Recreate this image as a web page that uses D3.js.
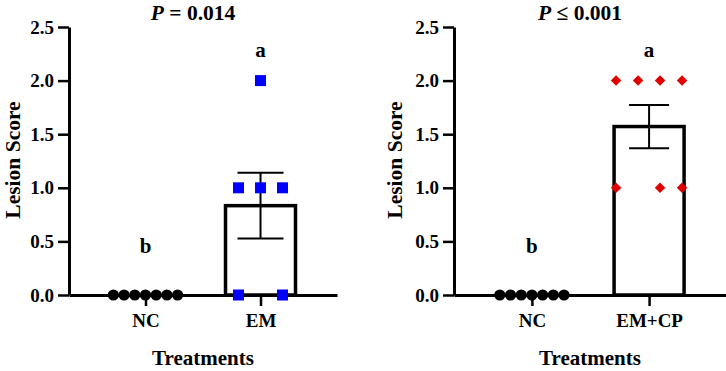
<!DOCTYPE html>
<html>
<head>
<meta charset="utf-8">
<script src="https://cdn.jsdelivr.net/npm/d3@7"></script>
<style>
    body { margin: 0; background: #fff; }
    svg { display: block; }
    text { font-family: "Liberation Serif", "Times New Roman", serif; font-weight: bold; fill: #000; }
</style>
</head>
<body>
<div class="chart_global"></div>
<script>
// данные по графикам
const yTicks = [0, 0.5, 1.0, 1.5, 2.0, 2.5]

// левый график
const leftCategories = ['NC', 'EM']
const leftTitle = '0.014'
const leftSign = '='
const leftNC = [0, 0, 0, 0, 0, 0, 0]
const leftEM = [2, 1, 1, 1, 0, 0]
const leftEMSlot = [0, -1, 0, 1, -1, 1]
const leftLetters = ['b', 'a']

// правый график
const rightCategories = ['NC', 'EM+CP']
const rightTitle = '0.001'
const rightSign = '≤'
const rightNC = [0, 0, 0, 0, 0, 0, 0]
const rightEMCP = [2, 2, 2, 2, 1, 1, 1]
const rightEMCPSlot = [-1.5, -0.5, 0.5, 1.5, -1.5, 0.5, 1.5]
const rightLetters = ['b', 'a']

const width = 726
const height = 371

const svg = d3.select('.chart_global')
    .append('svg')
    .attr('width', width)
    .attr('height', height)

// среднее и ошибка среднего
function meanSem(arr) {
    const m = d3.mean(arr)
    const sd = d3.deviation(arr)
    return { mean: m, sem: sd / Math.sqrt(arr.length) }
}

function drawPanel(opt) {
    const g = svg.append('g')

    const yScale = d3.scaleLinear()
        .domain([0, 2.5])
        .range([295, 27])

    const xScale = d3.scalePoint()
        .domain(opt.categories)
        .range([opt.x0, opt.x1])
        .padding(0.665)

    // ось y
    const yAxis = g.append('g')
        .attr('transform', 'translate(' + opt.x0 + ',0)')
        .call(d3.axisLeft(yScale).tickValues(yTicks).tickFormat(d3.format('.1f')).tickSize(11).tickSizeOuter(0).tickPadding(4))
    yAxis.select('.domain').attr('stroke-width', 3)
    yAxis.selectAll('.tick line').attr('stroke-width', 2.5)
    yAxis.selectAll('.tick text').style('font-size', '19px')

    // ось x
    const xAxis = g.append('g')
        .attr('transform', 'translate(0,' + yScale(0) + ')')
        .call(d3.axisBottom(xScale).tickSize(11).tickSizeOuter(0).tickPadding(8))
    xAxis.select('.domain').attr('stroke-width', 3)
    xAxis.selectAll('.tick line').attr('stroke-width', 2.5)
    xAxis.selectAll('.tick text').style('font-size', '19px')

    // столбец
    const st = meanSem(opt.values)
    const cx = xScale(opt.categories[1])
    g.append('rect')
        .attr('x', cx - 35)
        .attr('y', yScale(st.mean))
        .attr('width', 70)
        .attr('height', yScale(0) - yScale(st.mean))
        .attr('fill', 'none')
        .attr('stroke', '#000')
        .attr('stroke-width', 3.5)

    // ошибка
    const err = g.append('g').attr('stroke', '#000').attr('stroke-width', 2)
    err.append('line')
        .attr('x1', cx).attr('x2', cx)
        .attr('y1', yScale(st.mean + st.sem)).attr('y2', yScale(st.mean - st.sem))
    ;[st.mean + st.sem, st.mean - st.sem].forEach(v => {
        err.append('line')
            .attr('x1', cx - opt.cap / 2).attr('x2', cx + opt.cap / 2)
            .attr('y1', yScale(v)).attr('y2', yScale(v))
    })

    // точки NC
    const nx = xScale(opt.categories[0])
    g.selectAll('.nc')
        .data(opt.nc)
        .enter()
        .append('circle')
        .attr('cx', (d, i) => nx + (i - (opt.nc.length - 1) / 2) * 10.7)
        .attr('cy', d => yScale(d))
        .attr('r', 5.6)
        .attr('fill', '#000')

    // точки второй группы
    const sym = d3.symbol().type(d3.symbolSquare).size(opt.symSize)
    g.selectAll('.pt')
        .data(opt.values)
        .enter()
        .append('path')
        .attr('d', sym)
        .attr('transform', (d, i) => {
            const t = 'translate(' + (cx + opt.slots[i] * 22) + ',' + yScale(d) + ')'
            return opt.diamond ? t + ' rotate(45)' : t
        })
        .attr('fill', opt.color)

    // буквы
    g.append('text')
        .attr('x', nx).attr('y', 253)
        .attr('text-anchor', 'middle')
        .style('font-size', '21px')
        .text(opt.letters[0])
    g.append('text')
        .attr('x', cx).attr('y', 57)
        .attr('text-anchor', 'middle')
        .style('font-size', '21px')
        .text(opt.letters[1])

    // заголовок
    const title = g.append('text')
        .attr('x', opt.titleX).attr('y', 20)
        .attr('text-anchor', 'middle')
        .style('font-size', '21.5px')
    title.append('tspan').style('font-style', 'italic').text('P')
    title.append('tspan').text(' ' + opt.sign + ' ' + opt.title)

    // подписи осей
    g.append('text')
        .attr('transform', 'translate(' + opt.labelX + ',160) rotate(-90)')
        .attr('text-anchor', 'middle')
        .style('font-size', '21.5px')
        .text('Lesion Score')
    g.append('text')
        .attr('x', opt.treatX).attr('y', 365)
        .attr('text-anchor', 'middle')
        .style('font-size', '21px')
        .text('Treatments')
}

drawPanel({
    categories: leftCategories, values: leftEM, slots: leftEMSlot, nc: leftNC, letters: leftLetters,
    x0: 69, x1: 337, cap: 46, diamond: false, symSize: 121, color: '#0000ff',
    title: leftTitle, sign: leftSign, titleX: 193, labelX: 20, treatX: 203
})

drawPanel({
    categories: rightCategories, values: rightEMCP, slots: rightEMCPSlot, nc: rightNC, letters: rightLetters,
    x0: 454, x1: 727, cap: 40, diamond: true, symSize: 55, color: '#e00000',
    title: rightTitle, sign: rightSign, titleX: 580, labelX: 402, treatX: 590
})
</script>
</body>
</html>
